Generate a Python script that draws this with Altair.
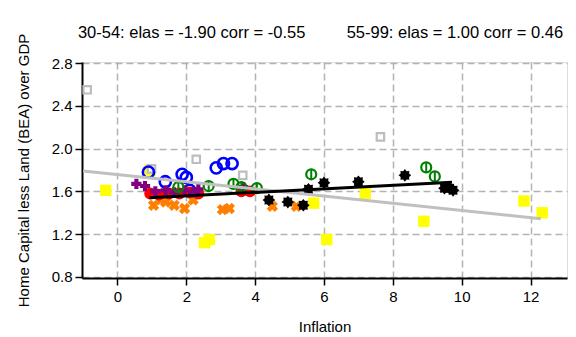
import math
import altair as alt
import pandas as pd

# Inflation (x) against home capital less land over GDP (y), grouped by period
gray_x = [-0.88, 0.99, 2.29, 3.64, 7.64]
gray_y = [2.55, 1.81, 1.90, 1.75, 2.11]

yellow_x = [-0.34, 0.95, 2.53, 2.67, 5.70, 6.08, 7.20, 8.90, 11.81, 12.34]
yellow_y = [1.61, 1.80, 1.12, 1.15, 1.49, 1.15, 1.58, 1.32, 1.51, 1.40]

blue_x = [0.90, 1.39, 1.88, 2.00, 2.10, 2.87, 3.08, 3.33]
blue_y = [1.78, 1.69, 1.76, 1.73, 1.61, 1.82, 1.86, 1.86]

orange_x = [1.05, 1.25, 1.40, 1.65, 1.95, 2.20, 3.05, 3.25, 4.50, 5.20]
orange_y = [1.47, 1.52, 1.50, 1.47, 1.44, 1.52, 1.43, 1.44, 1.46, 1.46]

red_x = [0.95, 1.20, 1.50, 1.80, 2.10, 2.35, 3.60, 3.85]
red_y = [1.58, 1.57, 1.58, 1.58, 1.59, 1.58, 1.60, 1.60]

purple_x = [0.55, 0.80, 1.10, 1.40, 1.65, 1.95, 2.20, 2.35, 3.65]
purple_y = [1.67, 1.65, 1.60, 1.61, 1.59, 1.61, 1.59, 1.62, 1.64]

green_x = [1.77, 2.65, 3.37, 3.60, 4.05, 5.63, 8.97, 9.22]
green_y = [1.64, 1.65, 1.67, 1.64, 1.63, 1.76, 1.825, 1.74]

black_x = [4.40, 4.95, 5.40, 5.55, 6.00, 7.00, 8.35, 9.50, 9.65, 9.75]
black_y = [1.52, 1.50, 1.47, 1.62, 1.68, 1.69, 1.75, 1.63, 1.63, 1.61]

# Fitted lines: 1930-54 (gray) and 1955-99 (black)
fit_early_x = [-1.0, 12.3]
fit_early_y = [1.79, 1.345]
fit_late_x = [0.93, 9.72]
fit_late_y = [1.54, 1.685]

x_ticks = [0, 2, 4, 6, 8, 10, 12]
y_ticks = [0.8, 1.2, 1.6, 2.0, 2.4, 2.8]

title_text = "30-54: elas = -1.90 corr = -0.55" + "\u00a0" * 9 + "55-99: elas = 1.00 corr = 0.46"

FONT = "Liberation Sans"
FS = 15

# 8-pointed burst marker
pts = []
for i in range(16):
    r = 1.0 if i % 2 == 0 else 0.72
    a = i * math.pi / 8
    pts.append(f"{r * math.sin(a):.3f},{-r * math.cos(a):.3f}")
star_path = "M" + "L".join(pts) + "Z"

axis_common = dict(
    grid=True, gridColor="#b3b3b3", gridDash=[7, 4], gridWidth=1.5,
    domainColor="black", domainWidth=2, tickColor="black", tickWidth=1.5,
    labelFont=FONT, labelFontSize=FS, labelColor="black",
    titleFont=FONT, titleFontSize=FS, titleFontWeight="normal", titleColor="black",
)

X = alt.X("x:Q",
          scale=alt.Scale(domain=[-1.03, 13.06], nice=False, zero=False),
          axis=alt.Axis(values=x_ticks, title="Inflation", tickSize=7,
                        labelPadding=4, titlePadding=15, **axis_common))
Y = alt.Y("y:Q",
          scale=alt.Scale(domain=[0.79, 2.81], nice=False, zero=False),
          axis=alt.Axis(values=y_ticks, format=".1f",
                        title="Home Capital less Land (BEA) over GDP",
                        tickSize=7, labelPadding=3, titlePadding=20, **axis_common))


def frame(xs, ys):
    return pd.DataFrame({"x": xs, "y": ys})


def points(xs, ys, **mark):
    return alt.Chart(frame(xs, ys)).mark_point(opacity=1, **mark).encode(x=X, y=Y)


yellow = points(yellow_x, yellow_y, shape="square", filled=True, color="#ffff00", size=130)
gray = points(gray_x, gray_y, shape="square", filled=True, fill="white",
              stroke="#bdbdbd", strokeWidth=2.2, size=55)
blue = points(blue_x, blue_y, shape="circle", filled=False, color="#0000ff",
              strokeWidth=2.6, size=125)
orange = points(orange_x, orange_y, shape="cross", angle=45, filled=True,
                color="#ff8000", size=130)
red = points(red_x, red_y, shape="circle", filled=True, color="#ff0000", size=140)
purple = points(purple_x, purple_y, shape="cross", filled=True, color="#800080", size=105)
green = points(green_x, green_y, shape="circle", filled=False, color="#008000",
               strokeWidth=2.2, size=100)
green_bar = points(green_x, green_y, shape="M0,-1L0,1", filled=False, color="#008000",
                   strokeWidth=2, size=115)
black = points(black_x, black_y, shape=star_path, filled=True, color="black", size=160)

line_early = alt.Chart(frame(fit_early_x, fit_early_y)).mark_line(
    color="#c0c0c0", strokeWidth=3, clip=True).encode(x=X, y=Y)
line_late = alt.Chart(frame(fit_late_x, fit_late_y)).mark_line(
    color="black", strokeWidth=3).encode(x=X, y=Y)

chart = alt.layer(
    yellow, gray, blue, orange, red, purple, green, green_bar, black,
    line_early, line_late,
).properties(
    width=485, height=216,
    padding={"left": 82, "top": 62, "right": 9, "bottom": 59},
    autosize="none",
    title=alt.TitleParams(title_text, font=FONT, fontSize=16.5, fontWeight="normal",
                          color="black", anchor="middle", offset=20, dy=28, dx=-4),
).configure_view(stroke="black", strokeWidth=2).configure(background="white")

chart.save("out.html", embed_options={"renderer": "svg", "actions": False})
